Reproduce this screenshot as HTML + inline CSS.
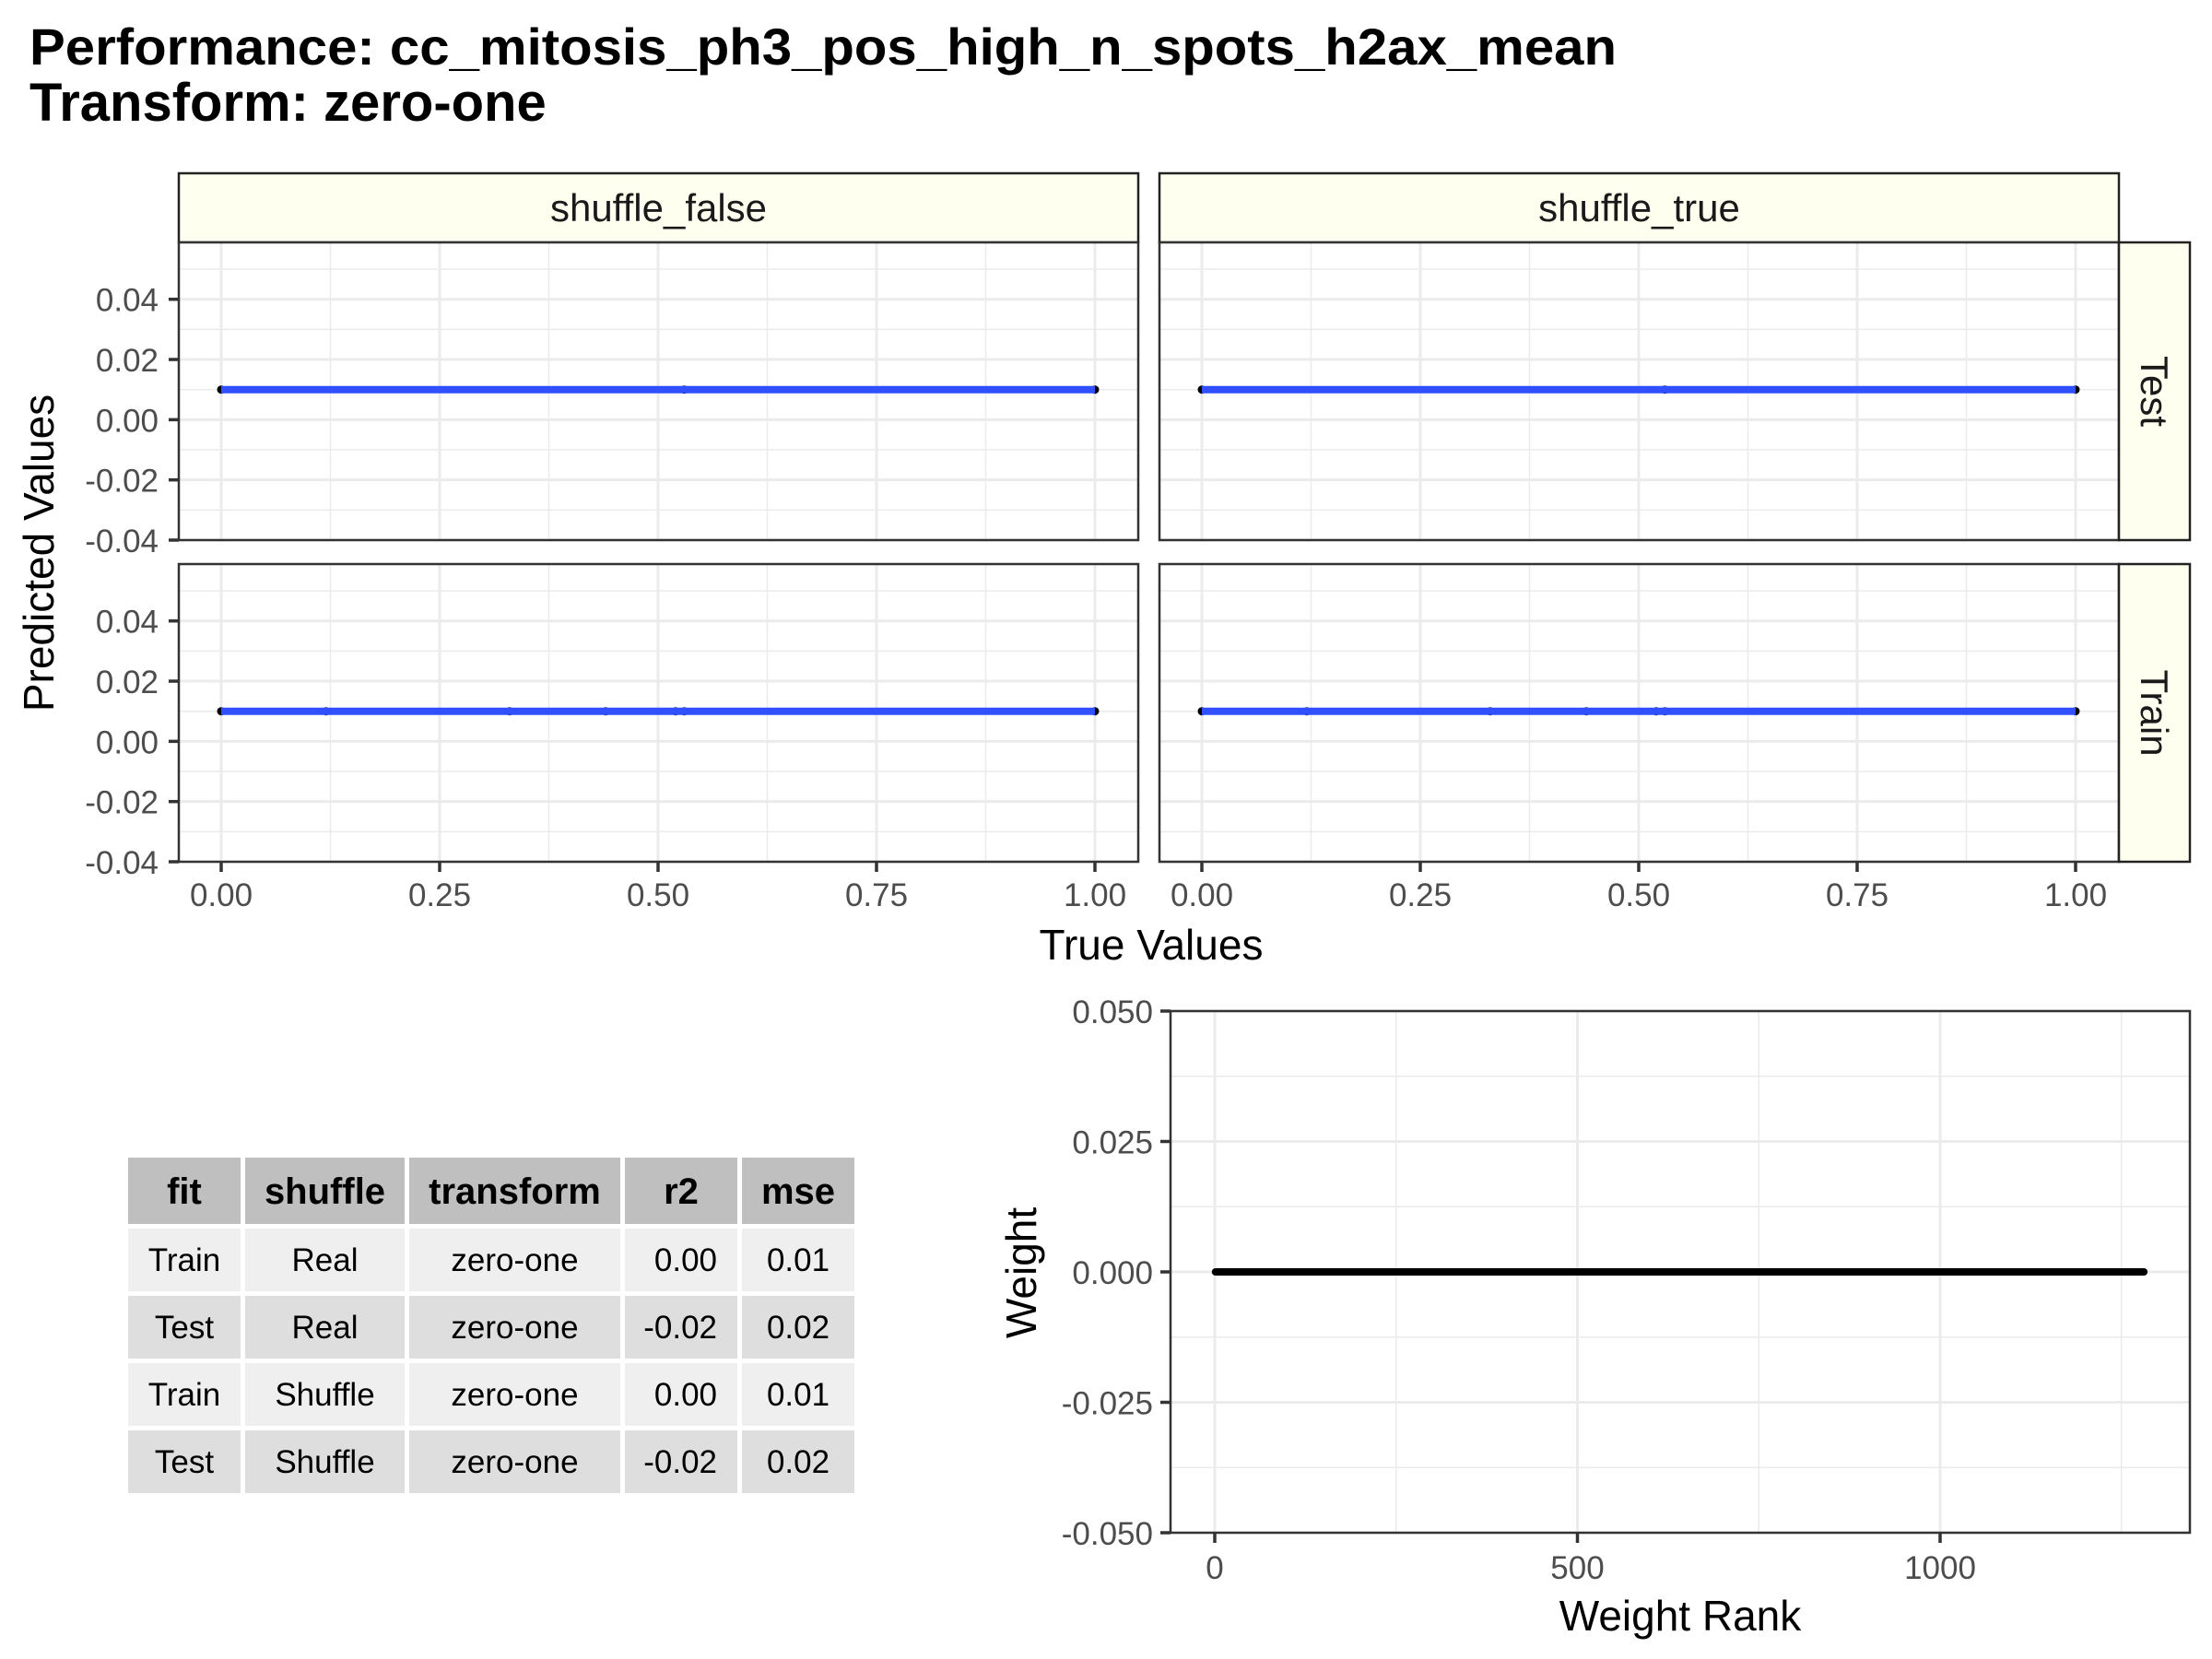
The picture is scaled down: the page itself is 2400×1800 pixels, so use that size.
<!DOCTYPE html>
<html><head><meta charset="utf-8"><style>
html,body{margin:0;padding:0;background:#fff;}
svg{display:block;font-family:"Liberation Sans",Arial,sans-serif;}
</style></head><body>
<svg id="chart" width="2400" height="1800" viewBox="0 0 2400 1800" xmlns="http://www.w3.org/2000/svg">
<rect x="0" y="0" width="2400" height="1800" fill="#fff"/>
<text x="32" y="70" font-size="56" font-weight="bold" textLength="1722" lengthAdjust="spacingAndGlyphs">Performance: cc_mitosis_ph3_pos_high_n_spots_h2ax_mean</text>
<text x="32" y="131" font-size="58" font-weight="bold">Transform: zero-one</text>
<g id="facets"></g>
<g id="table"></g>
<g id="weights"></g>
</svg>
<script>
const NS="http://www.w3.org/2000/svg";
const facetCols=["shuffle_false","shuffle_true"];
const facetRows=["Test","Train"];
const testTrue=[0,0.53,1];
const testPred=[0.01,0.01,0.01];
const trainTrue=[0,0.12,0.33,0.44,0.52,0.53,1];
const trainPred=[0.01,0.01,0.01,0.01,0.01,0.01,0.01];
const xTicks=[0,0.25,0.5,0.75,1];
const xTickLabels=["0.00","0.25","0.50","0.75","1.00"];
const yTicks=[-0.04,-0.02,0,0.02,0.04];
const yTickLabels=["-0.04","-0.02","0.00","0.02","0.04"];
const tableHeader=["fit","shuffle","transform","r2","mse"];
const tableFit=["Train","Test","Train","Test"];
const tableShuffle=["Real","Real","Shuffle","Shuffle"];
const tableTransform=["zero-one","zero-one","zero-one","zero-one"];
const tableR2=["0.00","-0.02","0.00","-0.02"];
const tableMse=["0.01","0.02","0.01","0.02"];
const weightValues=new Array(1281).fill(0);
const wxTicks=[0,500,1000];
const wyTicks=[-0.05,-0.025,0,0.025,0.05];
const wyTickLabels=["-0.050","-0.025","0.000","0.025","0.050"];

function el(tag,attrs,parent,text){const e=document.createElementNS(NS,tag);for(const k in attrs)e.setAttribute(k,attrs[k]);if(text!==undefined)e.textContent=text;parent.appendChild(e);return e;}

const TF=35;
const fg=document.getElementById('facets');
const colX=[194,1258], panW=1041;
const rowY=[263,612], panH=323;
const yMin=-0.04, yMax=0.0589;
facetCols.forEach((c,ci)=>{
  const px=colX[ci];
  const strip=el('rect',{x:px,y:188,width:panW,height:75,fill:'#fffff0',stroke:'#222','stroke-width':2.5},fg);
  
  
  const st=el('text',{x:px+panW/2,y:240,'font-size':42,'text-anchor':'middle',fill:'#1a1a1a'},fg,c);
  
  
  facetRows.forEach((r,ri)=>{
    const py=rowY[ri];
    const sx=v=>px+46+v*948;
    const sy=v=>py+panH-(v-yMin)/(yMax-yMin)*panH;
    const g=el('g',{},fg);
    
    
    el('rect',{x:px,y:py,width:panW,height:panH,fill:'#fff'},g);
    for(let v=-0.03;v<0.058;v+=0.02){el('line',{x1:px,x2:px+panW,y1:sy(v),y2:sy(v),stroke:'#ebebeb','stroke-width':1.5},g);}
    for(let i=0;i<4;i++){const v=0.125+i*0.25;el('line',{x1:sx(v),x2:sx(v),y1:py,y2:py+panH,stroke:'#ebebeb','stroke-width':1.5},g);}
    yTicks.forEach(v=>el('line',{x1:px,x2:px+panW,y1:sy(v),y2:sy(v),stroke:'#ebebeb','stroke-width':3},g));
    xTicks.forEach(v=>el('line',{x1:sx(v),x2:sx(v),y1:py,y2:py+panH,stroke:'#ebebeb','stroke-width':3},g));
    const tx=r==='Test'?testTrue:trainTrue, tp=r==='Test'?testPred:trainPred;
    tx.forEach((v,i)=>{const p=el('circle',{cx:sx(v),cy:sy(tp[i]),r:4.5,fill:'#000'},g);
      
      });
    const ln=el('line',{x1:sx(Math.min(...tx)),x2:sx(Math.max(...tx)),y1:sy(tp[0]),y2:sy(tp[tp.length-1]),stroke:'#3050ff','stroke-width':8},g);
    
    
    el('rect',{x:px,y:py,width:panW,height:panH,fill:'none',stroke:'#333','stroke-width':2.5},g);
    if(ci===0){yTicks.forEach((v,i)=>{el('line',{x1:px-11,x2:px,y1:sy(v),y2:sy(v),stroke:'#333','stroke-width':3.5},fg);
      const t=el('text',{x:px-22,y:sy(v)+13,'font-size':TF,'text-anchor':'end',fill:'#4d4d4d'},fg,yTickLabels[i]);
      
      });}
    if(ri===1){xTicks.forEach((v,i)=>{el('line',{x1:sx(v),x2:sx(v),y1:py+panH,y2:py+panH+11,stroke:'#333','stroke-width':3.5},fg);
      const t=el('text',{x:sx(v),y:983,'font-size':TF,'text-anchor':'middle',fill:'#4d4d4d'},fg,xTickLabels[i]);
      
      });}
    if(ci===1){const rs=el('rect',{x:2299,y:py,width:77,height:panH,fill:'#fffff0',stroke:'#222','stroke-width':2.5},fg);
      
      
      const rt=el('text',{x:0,y:0,'font-size':42,'text-anchor':'middle',fill:'#1a1a1a',transform:`translate(2323,${py+panH/2}) rotate(90)`},fg,r);
      
      }
  });
});
let t=el('text',{x:1249,y:1041,'font-size':46,'text-anchor':'middle'},fg,'True Values');


t=el('text',{x:0,y:0,'font-size':46,'text-anchor':'middle',transform:'translate(58,600) rotate(-90)'},fg,'Predicted Values');



// table
const tg=document.getElementById('table');
const colEdges=[[139,261],[266,439],[444,673],[678,800],[805,927]];
const rowEdges=[[1256,1328],[1333,1401],[1406,1474],[1479,1547],[1552,1620]];
const tableCols=[tableFit,tableShuffle,tableTransform,tableR2,tableMse];
rowEdges.forEach((re,ri)=>{
  colEdges.forEach((ce,ci)=>{
    const fill=ri===0?'#bfbfbf':(ri%2===1?'#efefef':'#dedede');
    el('rect',{x:ce[0],y:re[0],width:ce[1]-ce[0],height:re[1]-re[0],fill:fill},tg);
    const txt=ri===0?tableHeader[ci]:tableCols[ci][ri-1];
    const right=(ci===3&&ri>0);
    const c=el('text',{x:right?ce[1]-22:(ce[0]+ce[1])/2,y:(re[0]+re[1])/2+(ri===0?14:12),'font-size':ri===0?40:35,'font-weight':ri===0?'bold':'normal','text-anchor':right?'end':'middle',fill:'#000'},tg,txt);
    
    
  });
});

// weights
const wg=document.getElementById('weights');
const L=1270,R=2376,T=1097,B=1663;
const wx=v=>1318+v*(393.5/500);
const wy=v=>B-(v+0.05)/0.1*(B-T);
[-0.0375,-0.0125,0.0125,0.0375].forEach(v=>el('line',{x1:L,x2:R,y1:wy(v),y2:wy(v),stroke:'#ebebeb','stroke-width':1.5},wg));
[250,750,1250].forEach(v=>el('line',{x1:wx(v),x2:wx(v),y1:T,y2:B,stroke:'#ebebeb','stroke-width':1.5},wg));
wyTicks.forEach(v=>el('line',{x1:L,x2:R,y1:wy(v),y2:wy(v),stroke:'#ebebeb','stroke-width':3},wg));
wxTicks.forEach(v=>el('line',{x1:wx(v),x2:wx(v),y1:T,y2:B,stroke:'#ebebeb','stroke-width':3},wg));
let pts=weightValues.map((v,i)=>wx(i+1).toFixed(2)+','+wy(v).toFixed(2)).join(' ');
const wl=el('polyline',{points:pts,fill:'none',stroke:'#000','stroke-width':8,'stroke-linecap':'round'},wg);


el('rect',{x:L,y:T,width:R-L,height:B-T,fill:'none',stroke:'#333','stroke-width':2.5},wg);
wyTicks.forEach((v,i)=>{el('line',{x1:L-11,x2:L,y1:wy(v),y2:wy(v),stroke:'#333','stroke-width':3.5},wg);
  const k=el('text',{x:L-19,y:wy(v)+13,'font-size':TF,'text-anchor':'end',fill:'#4d4d4d'},wg,wyTickLabels[i]);
  
  });
wxTicks.forEach(v=>{el('line',{x1:wx(v),x2:wx(v),y1:B,y2:B+11,stroke:'#333','stroke-width':3.5},wg);
  const k=el('text',{x:wx(v),y:1713,'font-size':TF,'text-anchor':'middle',fill:'#4d4d4d'},wg,String(v));
  
  });
t=el('text',{x:1823,y:1769,'font-size':46,'text-anchor':'middle'},wg,'Weight Rank');


t=el('text',{x:0,y:0,'font-size':46,'text-anchor':'middle',transform:'translate(1124,1381) rotate(-90)'},wg,'Weight');


</script>
</body></html>
